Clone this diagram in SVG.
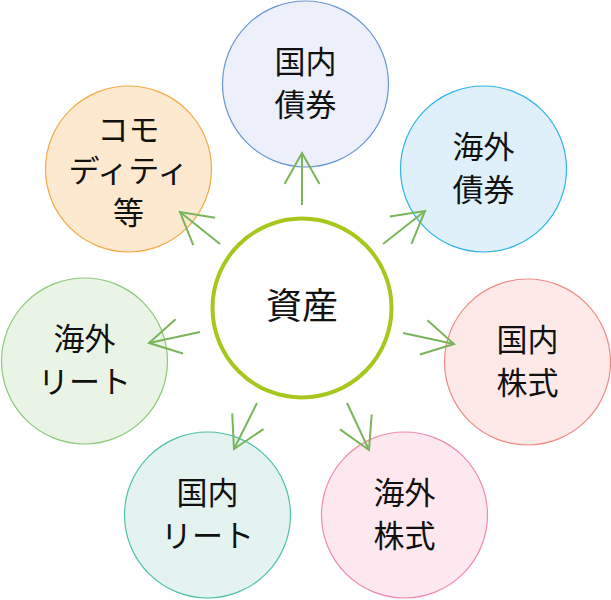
<svg xmlns="http://www.w3.org/2000/svg" width="611" height="600" viewBox="0 0 611 600">
<defs>
<style>
text{font-family:"Noto Sans CJK JP","Noto Sans",sans-serif;fill:#111;text-anchor:middle}
.o{font-size:31px}
.c{font-size:36px}
.n{stroke-width:1.2}
.a{stroke:#7ab55c;stroke-width:2;fill:none}
</style>
<marker id="ah" markerUnits="userSpaceOnUse" markerWidth="40" markerHeight="40" viewBox="-35 -20 40 40" refX="0" refY="0" orient="auto" overflow="visible">
<path d="M-31,-17.5 L0,0 L-31,17.5" fill="none" stroke="#7ab55c" stroke-width="2"/>
</marker>
</defs>
<rect width="611" height="600" fill="#fff"/>
<g id="n-kokunai-saiken"><circle class="n" cx="305.5" cy="84" r="83" fill="#edf0fa" stroke="#6a96d4"/><text class="o" x="305.5" y="73">国内</text><text class="o" x="305.5" y="116">債券</text></g>
<g id="n-kaigai-saiken"><circle class="n" cx="483.5" cy="169" r="83" fill="#dff0fa" stroke="#2fb5e6"/><text class="o" x="483.5" y="158">海外</text><text class="o" x="483.5" y="201">債券</text></g>
<g id="n-kokunai-kabushiki"><circle class="n" cx="527.5" cy="362" r="83" fill="#fde9e7" stroke="#f08c86"/><text class="o" x="527.5" y="351">国内</text><text class="o" x="527.5" y="394">株式</text></g>
<g id="n-kaigai-kabushiki"><circle class="n" cx="404.5" cy="515" r="83" fill="#fce8ee" stroke="#f08caa"/><text class="o" x="404.5" y="504">海外</text><text class="o" x="404.5" y="547">株式</text></g>
<g id="n-kokunai-reit"><circle class="n" cx="207.5" cy="515" r="83" fill="#e4f3ef" stroke="#50c0a8"/><text class="o" x="207.5" y="504">国内</text><text class="o" x="207.5" y="547">リート</text></g>
<g id="n-kaigai-reit"><circle class="n" cx="84.5" cy="361" r="83" fill="#eaf4e6" stroke="#8ec97a"/><text class="o" x="84.5" y="350">海外</text><text class="o" x="84.5" y="393">リート</text></g>
<g id="n-commodity"><circle class="n" cx="128.5" cy="169" r="83" fill="#fde9cf" stroke="#f5aa48"/><text class="o" x="128.5" y="141">コモ</text><text class="o" x="128.5" y="182">ディティ</text><text class="o" x="128.5" y="224">等</text></g>
<g id="n-shisan"><circle cx="302" cy="308" r="89.5" fill="#fff" stroke="#a6c81c" stroke-width="4"/><text class="c" x="302" y="319">資産</text></g>
<g id="connectors">
<line class="a" x1="302" y1="205" x2="302" y2="153" marker-end="url(#ah)"/>
<line class="a" x1="383" y1="244" x2="425" y2="211" marker-end="url(#ah)"/>
<line class="a" x1="403" y1="333" x2="454" y2="344" marker-end="url(#ah)"/>
<line class="a" x1="347" y1="403" x2="369" y2="450" marker-end="url(#ah)"/>
<line class="a" x1="257" y1="403" x2="234" y2="449" marker-end="url(#ah)"/>
<line class="a" x1="200" y1="332" x2="149" y2="343" marker-end="url(#ah)"/>
<line class="a" x1="220" y1="244" x2="180" y2="212" marker-end="url(#ah)"/>
</g>
</svg>
